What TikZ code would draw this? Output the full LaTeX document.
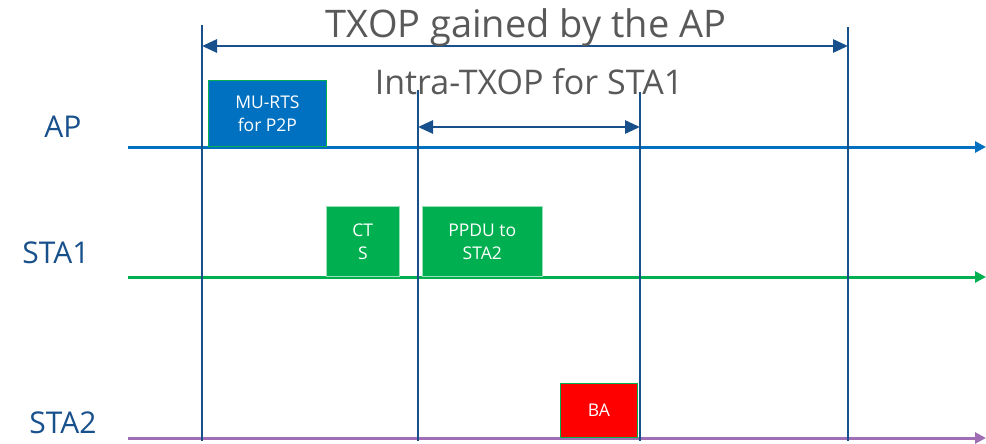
\documentclass[tikz,border=0pt]{standalone}
\usepackage{fontspec}
\setmainfont{Open Sans}
\usetikzlibrary{arrows.meta, positioning}
\definecolor{apblue}   {RGB}{0, 112, 192}
\definecolor{stagreen} {RGB}{0, 176, 80}
\definecolor{stapurple}{RGB}{160, 110, 180}
\definecolor{bndblue}  {RGB}{24, 80, 140}
\definecolor{txtgray}  {RGB}{89, 89, 89}

\begin{document}
\begin{tikzpicture}[x=1pt,y=-1pt,
	timeline/.style={line width=3pt,-{Triangle[length=11pt,width=11pt]}},
	bound/.style={bndblue,line width=2.8pt},
	span/.style={bndblue,line width=2.8pt,{Triangle[length=15pt,width=13pt]}-{Triangle[length=15pt,width=13pt]}},
	frame/.style={anchor=south west,inner sep=0pt,text=white,align=center,font=\fontsize{17.5}{23}\selectfont},
	sta/.style={text=bndblue,anchor=base,font=\fontsize{30}{30}\selectfont},
	heading/.style={text=txtgray,anchor=base,inner sep=0pt}]
	\useasboundingbox (0,0) rectangle (986,444);
	% stations and their time lines
	\node[sta] (ap)   at (63,137)  {AP};
	\node[sta] (sta1) at (56,263)  {STA1};
	\node[sta] (sta2) at (63,433)  {STA2};
	\coordinate (apS) at (128,147);  \coordinate (apE) at (986,147);
	\coordinate (s1S) at (128,277);  \coordinate (s1E) at (986,277);
	\coordinate (s2S) at (128,438);  \coordinate (s2E) at (986,438);
	\draw[timeline,apblue]    (apS) -- (apE);
	\draw[timeline,stagreen]  (s1S) -- (s1E);
	\draw[timeline,stapurple] (s2S) -- (s2E);
	% TXOP boundaries
	\foreach \n/\x/\y in {t0/202/25, t1/418/90, t2/640/92, t3/848/27}{
		\coordinate (\n) at (\x,\y);
		\coordinate (\n b) at (\x,441);
		\draw[bound] (\n) -- (\n b);
	}
	\coordinate (txopL) at (202,46);   \coordinate (txopR) at (848,46);
	\coordinate (intraL) at (418,127); \coordinate (intraR) at (640,127);
	\draw[span] (txopL) -- (txopR);
	\draw[span] (intraL) -- (intraR);
	\node[heading,font=\fontsize{38}{38}\selectfont] (txop)  at (526,38) {TXOP gained by the AP};
	\node[heading,font=\fontsize{34}{34}\selectfont] (intra) at (529,95) {Intra-TXOP for STA1};
	% frames
	\node[frame,fill=apblue,draw=stagreen,line width=0.8pt,minimum width=118pt,minimum height=66pt] (murts) at (208,147) {MU-RTS\\for P2P};
	\node[frame,fill=stagreen,draw=stagreen!40,line width=0.6pt,minimum width=73pt,minimum height=70pt] (cts) at (326,277) {CT\\S};
	\node[frame,fill=stagreen,draw=stagreen!40,line width=0.6pt,minimum width=120pt,minimum height=70pt] (ppdu) at (422,277) {PPDU to\\STA2};
	\node[frame,fill=red,draw=stagreen,line width=0.8pt,minimum width=77pt,minimum height=54pt] (ba) at (560,438) {BA};
\end{tikzpicture}
\end{document}
